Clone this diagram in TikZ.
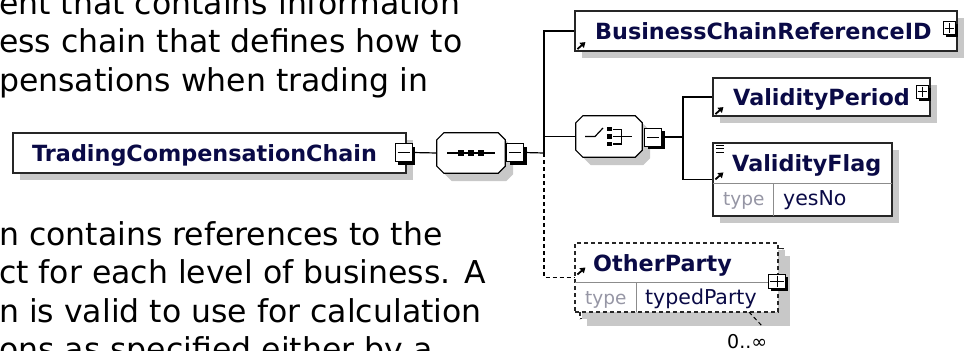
\documentclass[tikz,border=0pt]{standalone}
\usepackage{fontspec}
\setmainfont{DejaVu Sans}
\usepackage{tikz}
\usetikzlibrary{arrows.meta,positioning,shadows}
\definecolor{NameBlue}{RGB}{10,10,70}
\definecolor{TypeGray}{RGB}{150,150,165}
\definecolor{ShadowGray}{RGB}{200,200,200}
\definecolor{RowGray}{RGB}{140,140,140}

\begin{document}
\begin{tikzpicture}[x=1pt,y=-1pt,
  elem/.style={rectangle,draw=black!85,line width=1.2pt,fill=white,inner sep=0pt,
    drop shadow={shadow xshift=7pt,shadow yshift=-7pt,fill=ShadowGray,opacity=1}},
  optelem/.style={elem,dash pattern=on 4pt off 3pt},
  compo/.style={rectangle,inner sep=0pt},
  octa/.style 2 args={insert path={
    ([shift={(7+#2,#2)}]#1.north west) -- ([shift={(-7+#2,#2)}]#1.north east)
    -- ([shift={(#2,7+#2)}]#1.north east) -- ([shift={(#2,-7+#2)}]#1.south east)
    -- ([shift={(-7+#2,#2)}]#1.south east) -- ([shift={(7+#2,#2)}]#1.south west)
    -- ([shift={(#2,-7+#2)}]#1.south west) -- ([shift={(#2,7+#2)}]#1.north west) -- cycle}},
  btnbase/.style={rectangle,draw=black,line width=1pt,fill=white,inner sep=0pt},
  minusbtn/.style={btnbase,minimum width=17pt,minimum height=18pt,
    drop shadow={shadow xshift=3pt,shadow yshift=-3pt,fill=black,opacity=1}},
  plusbtn/.style={btnbase,minimum width=12pt,minimum height=13pt,
    drop shadow={shadow xshift=2.5pt,shadow yshift=-2.5pt,fill=black,opacity=1}},
  sign/.style={draw=black,line width=1pt},
  conn/.style={draw=black,line width=1.2pt},
  optconn/.style={conn,dash pattern=on 4pt off 3pt},
  divider/.style={draw=RowGray,line width=1pt},
  refarrow/.style={line width=1.8pt,-{Triangle[length=5pt,width=6.5pt]}},
  elemname/.style={font=\bfseries\fontsize{22.3}{26}\selectfont,text=NameBlue,inner sep=0pt,anchor=base west},
  typelabel/.style={font=\fontsize{18.5}{22}\selectfont,text=TypeGray,inner sep=0pt,anchor=base west},
  typevalue/.style={font=\fontsize{20.5}{24}\selectfont,text=NameBlue,inner sep=0pt,anchor=base west},
  para/.style={font=\fontsize{31.5}{38.5}\selectfont,inner sep=0pt,anchor=base west}
]
\useasboundingbox (0,0) rectangle (970,351);
\clip (0,0) rectangle (970,351);

% surrounding text
\node[para] (para1) at (-1,14) {ent that contains information};
\node[para] (para2) at (-1,52.5) {ess chain that defines how to};
\node[para] (para3) at (-1,91) {pensations when trading in};
\node[para] (para4) at (-1,245) {n contains references to the};
\node[para] (para5) at (-1,283.5) {ct for each level of business. A};
\node[para] (para6) at (-1,322) {n is valid to use for calculation};
\node[para] (para7) at (-1,360.5) {ons as specified either by a};

% root element and sequence
\node[elem,minimum width=393pt,minimum height=40pt] (tcc) at (209.5,153) {};
\node[elemname] (tccname) at (32,161.5) {TradingCompensationChain};
\node[minusbtn] (tccbtn) at (403.5,152.5) {};
\node[compo,minimum width=68pt,minimum height=40pt] (seq) at (471,153) {};
\fill[ShadowGray,octa={seq}{8}];
\draw[conn,fill=white,octa={seq}{0}];
\draw[conn] ([xshift=-24pt]seq.center) -- ([xshift=24pt]seq.center);
\foreach \dx in {-10,0,10}
  \fill ([xshift=\dx pt]seq.center) +(-2.6,-2.6) rectangle +(2.6,2.6);
\node[minusbtn] (seqbtn) at (515,152.5) {};
\coordinate (bus) at (544,153);

% children of the sequence
\node[elem,minimum width=382pt,minimum height=40pt] (bcrid) at (766,31) {};
\node[elemname] (bcridname) at (595,39) {BusinessChainReferenceID};
\node[plusbtn] (bcridbtn) at (949,28) {};
\draw[refarrow] ([shift={(3,-2.5)}]bcrid.south west) -- ++(8,-7);

\node[compo,minimum width=66pt,minimum height=41pt] (choice) at (609,136.5) {};
\fill[ShadowGray,octa={choice}{8}];
\draw[conn,fill=white,octa={choice}{0}];
\draw[conn] ([xshift=-24pt]choice.center) -- ++(10,0) -- ++(8,-8.5);
\foreach \dy in {-7.5,0,7.5}
  \fill ([yshift=-\dy pt]choice.center) +(-2.5,-2.3) rectangle +(2.5,2.3);
\draw[conn] ([shift={(3.5,-7.3)}]choice.center) -- ++(9,0) -- ++(0,14.8) -- ++(-9,0);
\draw[conn] ([xshift=3.5pt]choice.center) -- ++(19,0);
\node[minusbtn] (choicebtn) at (653,137) {};
\coordinate (cbus) at (683,137);

\node[optelem,minimum width=203pt,minimum height=70pt] (opback) at (681.5,283.5) {};
\node[optelem,minimum width=203pt,minimum height=69pt,drop shadow={opacity=0}] (op) at (676.5,277.5) {};
\draw[divider] (575,282) -- (768,282);
\draw[divider] (636,282) -- (636,312);
\node[elemname] (opname) at (593,271) {OtherParty};
\node[typelabel] (optype) at (585,304.5) {type};
\node[typevalue] (opvalue) at (645,304.5) {typedParty};
\node[plusbtn,minimum width=17pt,minimum height=14pt] (opbtn) at (777,281) {};
\draw[refarrow] ([shift={(3,-3)}]op.west) -- ++(8,-7);
\draw[optconn,line width=1pt] (749,312) -- (763,327);
\node[font=\fontsize{19}{21}\selectfont,inner sep=0pt,anchor=base west] (opcard) at (727,348) {0..∞};

% children of the choice
\node[elem,minimum width=217pt,minimum height=38pt] (vp) at (821.5,97) {};
\node[elemname] (vpname) at (733,105) {ValidityPeriod};
\node[plusbtn] (vpbtn) at (922,91.5) {};
\draw[refarrow] ([shift={(3,-2.5)}]vp.south west) -- ++(8,-7);

\node[elem,minimum width=179pt,minimum height=73pt] (vf) at (802.5,179.5) {};
\draw[divider] (713,183) -- (892,183);
\draw[divider] (773,183) -- (773,216);
\node[elemname] (vfname) at (732,171.5) {ValidityFlag};
\node[typelabel] (vftype) at (723,205.5) {type};
\node[typevalue] (vfvalue) at (783,205.5) {yesNo};
\foreach \dy in {3,6.3,9.6}
  \draw[line width=1pt] ([shift={(4,\dy)}]vf.north west) -- ++(8,0);
\draw[refarrow] ([shift={(3,37)}]vf.north west) -- ++(8,-7);

% expand / collapse signs
\foreach \b in {tccbtn,seqbtn,choicebtn}
  \draw[sign] ([xshift=3pt]\b.west) -- ([xshift=-3pt]\b.east);
\foreach \b in {bcridbtn,vpbtn,opbtn} {
  \draw[sign] ([xshift=2pt]\b.west) -- ([xshift=-2pt]\b.east);
  \draw[sign] ([yshift=-2pt]\b.north) -- ([yshift=2pt]\b.south);
}

% connectors
\draw[conn] (tccbtn.east) -- (seq.west);
\draw[conn] (seqbtn.east) -- (bus);
\draw[conn] (bus) |- (bcrid.west);
\draw[conn] (choice.west) -- (choice.west -| bus);
\draw[optconn] (bus) |- (op.west);
\draw[conn] (choicebtn.east) -- (cbus);
\draw[conn] (cbus) |- (vp.west);
\draw[conn] (cbus) |- (vf.west);
\end{tikzpicture}
\end{document}
